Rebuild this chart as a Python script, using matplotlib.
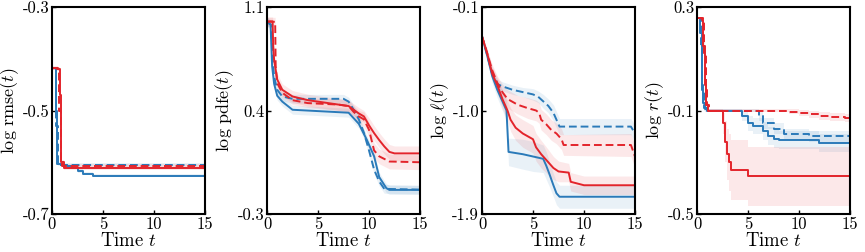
import numpy as np
import matplotlib
matplotlib.use("Agg")
import matplotlib.pyplot as plt

plt.rcParams["font.family"] = ["cmr10", "DejaVu Serif"]
plt.rcParams["mathtext.fontset"] = "cm"
plt.rcParams["axes.unicode_minus"] = False

BLUE = "#2a7ab9"
RED = "#e3242b"

# ── Panel 1: log rmse(t) ─────────────────────────────────────────────────────
rmse_bs_t = [0, 0.35, 0.5, 1.0, 1.5, 2.0, 2.5, 3.0, 4.0, 15]
rmse_bs_y = [-0.418, -0.50, -0.603, -0.606, -0.608, -0.611, -0.617, -0.622, -0.626, -0.626]
rmse_bs_w = [0.003] * 10
rmse_bd_t = [0, 0.4, 0.55, 15]
rmse_bd_y = [-0.418, -0.53, -0.605, -0.605]
rmse_bd_w = [0.003] * 4
rmse_rs_t = [0, 0.6, 0.75, 0.9, 1.2, 15]
rmse_rs_y = [-0.418, -0.42, -0.47, -0.60, -0.611, -0.611]
rmse_rs_w = [0.004] * 6
rmse_rd_t = [0, 0.5, 0.7, 0.85, 1.0, 15]
rmse_rd_y = [-0.418, -0.42, -0.50, -0.60, -0.607, -0.607]
rmse_rd_w = [0.003] * 6

# ── Panel 2: log pdfe(t) ─────────────────────────────────────────────────────
pdfe_bs_t = [0, 0.35, 0.5, 0.7, 1.0, 1.5, 2.5, 8.0, 9.0, 9.8, 10.5, 11.0, 11.7, 12.0, 15]
pdfe_bs_y = [1.0, 0.98, 0.70, 0.58, 0.50, 0.46, 0.405, 0.385, 0.31, 0.20, 0.09, -0.05, -0.125, -0.137, -0.137]
pdfe_bs_w = [0.03] * 15
pdfe_bd_t = [0, 0.4, 0.55, 0.7, 1.0, 1.5, 2.5, 7.5, 8.0, 8.5, 9.0, 9.5, 10.0, 10.5, 11.0, 11.5, 15]
pdfe_bd_y = [1.0, 0.98, 0.75, 0.63, 0.54, 0.495, 0.479, 0.479, 0.46, 0.405, 0.34, 0.25, 0.13, 0.0, -0.08, -0.13, -0.135]
pdfe_bd_w = [0.03] * 17
pdfe_rs_t = [0, 0.55, 0.6, 0.7, 1.0, 1.5, 2.5, 4.0, 6.0, 8.0, 8.5, 9.0, 9.5, 10.0, 10.5, 11.0, 11.5, 12.0, 12.5, 15]
pdfe_rs_y = [1.003, 1.003, 0.85, 0.74, 0.61, 0.54, 0.495, 0.47, 0.45, 0.43, 0.405, 0.38, 0.36, 0.30, 0.247, 0.20, 0.157, 0.12, 0.11, 0.11]
pdfe_rs_w = [0.03, 0.03, 0.04, 0.04, 0.04, 0.04, 0.04, 0.04, 0.04, 0.04, 0.04, 0.04, 0.04,
             0.05, 0.05, 0.05, 0.05, 0.05, 0.05, 0.05]
pdfe_rd_t = [0, 0.8, 0.85, 1.0, 1.5, 2.5, 4.0, 7.0, 8.0, 8.5, 9.0, 9.5, 10.0, 10.5, 11.0, 12.0, 15]
pdfe_rd_y = [1.0, 1.0, 0.70, 0.585, 0.52, 0.47, 0.45, 0.44, 0.43, 0.39, 0.36, 0.34, 0.27, 0.13, 0.09, 0.055, 0.05]
pdfe_rd_w = [0.03] * 7 + [0.04] * 4 + [0.05] * 6

# ── Panel 3: log ell(t) ──────────────────────────────────────────────────────
ell_bs_t = [0, 0.5, 1.0, 1.5, 2.0, 2.4, 2.6, 4.0, 5.0, 6.0, 6.3, 6.6, 7.0, 7.3, 7.6, 15]
ell_bs_y = [-0.355, -0.52, -0.70, -0.82, -0.92, -1.0, -1.36, -1.38, -1.40, -1.42, -1.48, -1.55,
            -1.65, -1.72, -1.75, -1.75]
ell_bs_w = [0.01, 0.04, 0.06, 0.07, 0.08, 0.09, 0.12, 0.13, 0.13, 0.12, 0.12, 0.11,
            0.10, 0.10, 0.10, 0.10]
ell_bd_t = [0, 0.3, 0.6, 1.0, 1.5, 2.0, 3.0, 4.0, 5.0, 5.5, 6.0, 6.5, 7.0, 7.3, 7.6, 14.6, 15]
ell_bd_y = [-0.355, -0.45, -0.55, -0.68, -0.77, -0.79, -0.82, -0.84, -0.86, -0.88, -0.92, -0.96,
            -1.02, -1.08, -1.14, -1.14, -1.20]
ell_bd_w = [0.01, 0.02, 0.03, 0.04, 0.04, 0.04, 0.04, 0.04, 0.05, 0.05, 0.06, 0.06,
            0.07, 0.07, 0.07, 0.07, 0.07]
ell_rs_t = [0, 0.5, 1.0, 1.5, 2.0, 2.5, 2.8, 3.3, 4.0, 5.0, 5.3, 5.8, 6.5, 7.0, 7.5, 8.5, 8.7, 10.0, 15]
ell_rs_y = [-0.355, -0.50, -0.68, -0.78, -0.90, -1.0, -1.08, -1.15, -1.20, -1.25, -1.32, -1.38,
            -1.45, -1.50, -1.53, -1.54, -1.62, -1.65, -1.65]
ell_rs_w = [0.01, 0.04, 0.06, 0.07, 0.08, 0.09, 0.10, 0.11, 0.12, 0.12, 0.12, 0.12,
            0.11, 0.10, 0.09, 0.08, 0.08, 0.08, 0.08]
ell_rd_t = [0, 0.5, 1.0, 1.5, 2.0, 2.5, 3.5, 4.5, 5.3, 5.6, 5.8, 6.3, 6.8, 7.3, 7.8, 8.0, 14.6, 15]
ell_rd_y = [-0.355, -0.50, -0.65, -0.76, -0.84, -0.90, -0.95, -0.98, -1.0, -1.02, -1.08, -1.12,
            -1.17, -1.20, -1.25, -1.30, -1.30, -1.40]
ell_rd_w = [0.01, 0.03, 0.05, 0.06, 0.07, 0.08, 0.08, 0.09, 0.09, 0.09, 0.09, 0.09,
            0.09, 0.09, 0.09, 0.09, 0.10, 0.10]

# ── Panel 4: log r(t) ────────────────────────────────────────────────────────
r_bs_t = [0, 0.3, 0.45, 0.6, 0.8, 1.0, 4.0, 4.4, 5.0, 5.5, 6.5, 7.0, 7.5, 8.0, 12.0, 15]
r_bs_y = [0.257, 0.20, 0.0, -0.07, -0.095, -0.10, -0.10, -0.12, -0.15, -0.16, -0.18, -0.20,
          -0.21, -0.215, -0.225, -0.229]
r_bs_w = [0.005, 0.005, 0.01, 0.01, 0.01, 0.005, 0.005, 0.02, 0.03, 0.03, 0.035, 0.035,
          0.035, 0.035, 0.035, 0.035]
r_bd_t = [0, 0.35, 0.5, 0.7, 1.0, 5.8, 6.1, 6.5, 7.5, 8.5, 11.0, 15]
r_bd_y = [0.257, 0.15, -0.02, -0.09, -0.10, -0.10, -0.12, -0.15, -0.17, -0.19, -0.20, -0.21]
r_bd_w = [0.005, 0.01, 0.01, 0.01, 0.005, 0.005, 0.02, 0.02, 0.02, 0.02, 0.02, 0.02]
r_rs_t = [0, 0.5, 0.6, 0.75, 0.9, 1.1, 2.2, 2.5, 2.7, 2.9, 3.1, 3.3, 5.0, 15]
r_rs_y = [0.257, 0.25, 0.15, 0.0, -0.08, -0.10, -0.10, -0.15, -0.22, -0.27, -0.30, -0.33,
          -0.355, -0.355]
r_rs_w = [0.005, 0.01, 0.02, 0.02, 0.01, 0.005, 0.005, 0.04, 0.08, 0.10, 0.11, 0.115,
          0.115, 0.115]
r_rd_t = [0, 0.55, 0.7, 0.85, 1.0, 1.2, 8.0, 9.0, 10.0, 11.0, 12.0, 13.0, 14.5, 15]
r_rd_y = [0.257, 0.25, 0.12, -0.02, -0.08, -0.10, -0.10, -0.105, -0.11, -0.115, -0.12, -0.125,
          -0.13, -0.145]
r_rd_w = [0.005, 0.01, 0.01, 0.01, 0.01, 0.005, 0.005, 0.01, 0.012, 0.015, 0.015, 0.015,
          0.015, 0.015]

# (label, ylim, yticks, yticklabels, stepped?, series)
panels = [
    (r"$\log\,\mathrm{rmse}(t)$", (-0.7, -0.3), [-0.7, -0.5, -0.3], ["-0.7", "-0.5", "-0.3"], True,
     [(rmse_bs_t, rmse_bs_y, rmse_bs_w, BLUE, "-"), (rmse_bd_t, rmse_bd_y, rmse_bd_w, BLUE, "--"),
      (rmse_rs_t, rmse_rs_y, rmse_rs_w, RED, "-"), (rmse_rd_t, rmse_rd_y, rmse_rd_w, RED, "--")]),
    (r"$\log\,\mathrm{pdfe}(t)$", (-0.3, 1.1), [-0.3, 0.4, 1.1], ["-0.3", "0.4", "1.1"], False,
     [(pdfe_bs_t, pdfe_bs_y, pdfe_bs_w, BLUE, "-"), (pdfe_bd_t, pdfe_bd_y, pdfe_bd_w, BLUE, "--"),
      (pdfe_rs_t, pdfe_rs_y, pdfe_rs_w, RED, "-"), (pdfe_rd_t, pdfe_rd_y, pdfe_rd_w, RED, "--")]),
    (r"$\log\,\ell(t)$", (-1.9, -0.1), [-1.9, -1.0, -0.1], ["-1.9", "-1.0", "-0.1"], False,
     [(ell_bs_t, ell_bs_y, ell_bs_w, BLUE, "-"), (ell_bd_t, ell_bd_y, ell_bd_w, BLUE, "--"),
      (ell_rs_t, ell_rs_y, ell_rs_w, RED, "-"), (ell_rd_t, ell_rd_y, ell_rd_w, RED, "--")]),
    (r"$\log\,r(t)$", (-0.5, 0.3), [-0.5, -0.1, 0.3], ["-0.5", "-0.1", "0.3"], True,
     [(r_bs_t, r_bs_y, r_bs_w, BLUE, "-"), (r_bd_t, r_bd_y, r_bd_w, BLUE, "--"),
      (r_rs_t, r_rs_y, r_rs_w, RED, "-"), (r_rd_t, r_rd_y, r_rd_w, RED, "--")]),
]

fig = plt.figure(figsize=(8.65, 2.52), dpi=100)
lefts = [52, 267, 482, 697]

for left, (ylab, ylim, yt, ytl, stepped, series) in zip(lefts, panels):
    ax = fig.add_axes([left / 865, 1 - 214 / 252, 153 / 865, 207 / 252])
    ds = "steps-post" if stepped else "default"
    for t, y, w, c, ls in series:
        t = np.asarray(t, float)
        y = np.asarray(y, float)
        w = np.asarray(w, float)
        ax.fill_between(t, y - w, y + w, step="post" if stepped else None,
                        color=c, alpha=0.1, linewidth=0)
    for t, y, w, c, ls in series:
        ax.plot(t, y, drawstyle=ds, color=c, linestyle=ls, linewidth=1.4,
                dashes=(4, 2) if ls == "--" else (None, None))
    ax.set_xlim(0, 15)
    ax.set_ylim(*ylim)
    ax.set_xticks([0, 5, 10, 15])
    ax.set_xticklabels(["0", "5", "10", "15"])
    ax.set_yticks(yt)
    ax.set_yticklabels(ytl)
    ax.tick_params(direction="in", length=3, width=1, labelsize=12, pad=2)
    for s in ax.spines.values():
        s.set_linewidth(1.5)
    ax.set_xlabel(r"Time $t$", fontsize=13.5, labelpad=0)
    ax.set_ylabel(ylab, fontsize=13, labelpad=1)

plt.savefig("out.png", dpi=100)
